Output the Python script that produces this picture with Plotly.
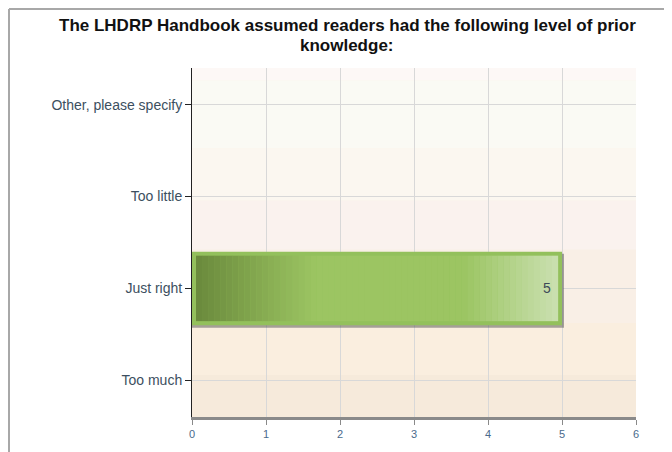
import plotly.graph_objects as go

categories = ["Too much", "Just right", "Too little", "Other, please specify"]
counts = [0, 5, 0, 0]
x_ticks = [0, 1, 2, 3, 4, 5, 6]

title_lines = ["The LHDRP Handbook assumed readers had the following level of prior", "knowledge:"]

# background bands, bottom to top (paper fractions)
bands = [
    (0.00, 0.12, "#f6eadb"),
    (0.12, 0.27, "#faeedf"),
    (0.27, 0.48, "#f9efe6"),
    (0.48, 0.62, "#faf2ee"),
    (0.62, 0.77, "#fbf7f0"),
    (0.77, 0.965, "#fafaf4"),
    (0.965, 1.00, "#fdf8f6"),
]

W, H = 664, 444
L, R, T, B = 184, 36, 60, 35
PW, PH = W - L - R, H - T - B


def mix(c1, c2, t):
    a = [int(c1[i:i + 2], 16) for i in (1, 3, 5)]
    b = [int(c2[i:i + 2], 16) for i in (1, 3, 5)]
    return "#%02x%02x%02x" % tuple(round(a[k] + (b[k] - a[k]) * t) for k in range(3))


def bar_color(f):
    # horizontal gradient: dark -> mid -> flat -> light
    if f < 0.33:
        return mix("#6a8a3c", "#9cc562", f / 0.33)
    if f < 0.74:
        return "#9cc562"
    return mix("#9cc562", "#cbe0b1", (f - 0.74) / 0.26)


ypos = list(range(len(categories)))
fig = go.Figure()

fig.add_trace(go.Bar(
    x=counts, y=ypos, orientation="h", width=0.8,
    marker=dict(color="#93c05c", line=dict(width=0)),
    hoverinfo="skip", showlegend=False,
))

shapes = []
for y0, y1, c in bands:
    shapes.append(dict(type="rect", xref="paper", yref="paper", x0=0, x1=1, y0=y0, y1=y1,
                       fillcolor=c, line=dict(width=0), layer="below"))

px_x = 6 / PW
px_y = 3.8 / PH
annotations = []
for y, v in zip(ypos, counts):
    if v <= 0:
        continue
    # shadow
    shapes.append(dict(type="rect", x0=0, x1=v + 2 * px_x, y0=y - 0.4 - 2.5 * px_y, y1=y + 0.4 - 2 * px_y,
                       fillcolor="rgba(80,80,80,0.5)", line=dict(width=0), layer="between"))
    n = 60
    x_in0 = 4 * px_x
    x_in1 = v - 4 * px_x
    for i in range(n):
        a = x_in0 + (x_in1 - x_in0) * i / n
        b = x_in0 + (x_in1 - x_in0) * (i + 1) / n + 0.002
        shapes.append(dict(type="rect", x0=a, x1=b, y0=y - 0.4 + 4 * px_y, y1=y + 0.4 - 4 * px_y,
                           fillcolor=bar_color((i + 0.5) / n), line=dict(width=0), layer="above"))
    annotations.append(dict(x=v, y=y, text=str(v), showarrow=False, xanchor="right", xshift=-9,
                            font=dict(family="Liberation Sans, Arial", size=14, color="#3d4a58")))

# title, one annotation per line
for text, cy in zip(title_lines, [17, 38]):
    annotations.append(dict(xref="paper", yref="paper", x=(339 - L) / PW, y=(H - B - cy) / PH,
                            text="<b>" + text + "</b>", showarrow=False, xanchor="center", yanchor="middle",
                            font=dict(family="Liberation Sans, Arial", size=17, color="#111111")))

# outer frame of the page
shapes.append(dict(type="line", xref="paper", yref="paper", x0=(1 - L) / PW, x1=(W - L) / PW,
                   y0=(H - B - 1) / PH, y1=(H - B - 1) / PH, line=dict(color="#a8a8a8", width=2)))
shapes.append(dict(type="line", xref="paper", yref="paper", x0=(1 - L) / PW, x1=(1 - L) / PW,
                   y0=(H - B - 1) / PH, y1=-B / PH, line=dict(color="#a8a8a8", width=2)))

fig.update_layout(
    width=W, height=H,
    margin=dict(l=L, r=R, t=T, b=B),
    paper_bgcolor="white",
    plot_bgcolor="#f9f1e8",
    shapes=shapes,
    annotations=annotations,
    font=dict(family="Liberation Sans, Arial"),
    bargap=0.2,
)

fig.update_xaxes(
    range=[0, 6], tickvals=x_ticks, showgrid=True, gridcolor="#d8d8d8", gridwidth=1,
    zeroline=False, showline=True, linecolor="#8a8a8a", linewidth=3,
    ticks="outside", ticklen=5, tickcolor="#8a8a8a", tickwidth=1,
    tickfont=dict(size=11, color="#4a6a8c"), fixedrange=True,
)
fig.update_yaxes(
    range=[-0.4, 3.4], tickvals=ypos, ticktext=categories, showgrid=True, gridcolor="#d8d8d8",
    zeroline=False, showline=True, linecolor="#222222", linewidth=1,
    ticks="outside", ticklen=6, tickcolor="#222222",
    tickfont=dict(size=14, color="#3c4f60"), fixedrange=True,
)

fig.write_html("out.html")
